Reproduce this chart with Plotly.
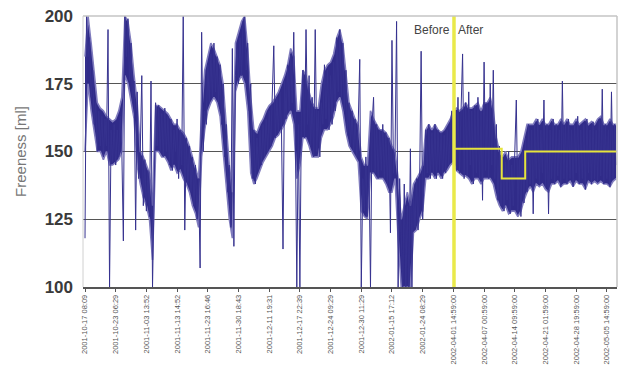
import plotly.graph_objects as go

# Tick labels (one every 20 samples)
tick_labels = [
    "2001-10-17 08:09", "2001-10-23 06:29", "2001-11-03 13:52", "2001-11-13 14:52",
    "2001-11-23 16:46", "2001-11-30 18:43", "2001-12-11 19:31", "2001-12-17 22:39",
    "2001-12-24 09:29", "2001-12-30 11:29", "2002-01-15 17:12", "2002-01-24 08:29",
    "2002-04-01 14:59:00", "2002-04-07 00:59:00", "2002-04-14 09:59:00",
    "2002-04-21 01:59:00", "2002-04-28 19:59:00", "2002-05-05 14:59:00",
]
tick_samples = [i * 20 for i in range(len(tick_labels))]

# Individual freeness readings [ml], one per sample
freeness = [
    118, 200, 185, 192, 170, 180, 160, 168, 150, 165, 152, 163, 148, 162, 152, 195, 100, 158, 146, 160,
    145, 158, 148, 163, 150, 117, 200, 185, 199, 176, 190, 168, 176, 121, 172, 140, 150, 178, 130, 147,
    128, 143, 126, 176, 100, 140, 168, 152, 167, 150, 164, 148, 166, 150, 163, 145, 162, 143, 158, 150,
    162, 140, 158, 145, 200, 121, 155, 138, 152, 135, 148, 130, 145, 125, 140, 107, 194, 150, 165, 160,
    182, 168, 186, 170, 190, 172, 185, 168, 182, 160, 175, 148, 160, 135, 145, 122, 188, 115, 178, 188,
    175, 192, 178, 198, 200, 180, 190, 165, 175, 140, 158, 138, 155, 143, 158, 145, 160, 148, 162, 150,
    165, 152, 168, 189, 155, 170, 157, 172, 158, 114, 176, 162, 182, 165, 186, 168, 194, 160, 100, 160,
    100, 165, 180, 155, 195, 160, 178, 152, 170, 148, 195, 150, 165, 148, 168, 160, 182, 162, 180, 158,
    178, 160, 183, 165, 192, 172, 195, 170, 190, 165, 180, 156, 168, 152, 165, 150, 162, 148, 160, 184,
    100, 140, 128, 148, 126, 145, 100, 160, 170, 142, 160, 140, 158, 143, 160, 140, 157, 138, 155, 120,
    191, 142, 150, 198, 100, 140, 120, 100, 138, 100, 130, 100, 151, 100, 135, 122, 140, 121, 138, 187,
    125, 145, 158, 142, 160, 140, 157, 142, 160, 140, 158, 143, 157, 140, 156, 142, 158, 145, 160, 165,
    148, 162, 143, 170, 142, 165, 186, 140, 168, 141, 172, 145, 165, 138, 167, 142, 170, 140, 165, 132,
    183, 143, 168, 140, 175, 145, 180, 140, 160, 132, 152, 130, 148, 128, 146, 132, 150, 127, 145, 130,
    148, 169, 128, 147, 126, 150, 131, 155, 135, 160, 138, 158, 127, 160, 140, 162, 138, 158, 142, 169,
    137, 160, 127, 158, 140, 162, 138, 160, 141, 158, 137, 176, 140, 160, 138, 162, 140, 158, 137, 160,
    142, 163, 138, 158, 140, 160, 136, 162, 142, 158, 138, 161, 140, 158, 139, 162, 141, 173, 138, 160,
    140, 158, 137, 172, 140, 160, 145,
]
samples = list(range(len(freeness)))

# Typical range of the readings, one bin per 2 samples
band_samples = list(range(0, 347, 2))
band_low = [
    150, 175, 165, 158, 150, 150, 147, 150, 145, 145, 146, 147, 150, 178, 175, 168, 162, 145, 138, 133,
    130, 125, 110, 150, 150, 148, 148, 146, 143, 145, 142, 143, 140, 138, 135, 130, 127, 122, 148, 158,
    165, 168, 170, 168, 163, 150, 138, 125, 118, 172, 176, 178, 175, 165, 142, 138, 140, 143, 146, 148,
    150, 152, 155, 156, 158, 160, 163, 165, 160, 140, 145, 155, 155, 152, 148, 148, 148, 155, 158, 158,
    160, 163, 168, 170, 165, 157, 152, 150, 148, 146, 128, 126, 125, 142, 142, 140, 140, 140, 138, 135,
    135, 140, 118, 100, 100, 100, 100, 120, 121, 125, 128, 140, 140, 142, 140, 142, 140, 142, 143, 145,
    146, 143, 142, 141, 141, 140, 138, 140, 140, 138, 140, 140, 140, 138, 133, 130, 128, 130, 127, 128,
    128, 126, 128, 132, 135, 137, 135, 138, 137, 138, 136, 135, 138, 138, 139, 137, 138, 138, 139, 137,
    139, 138, 138, 136, 139, 138, 139, 138, 139, 138, 138, 137, 139, 140,
]
band_high = [
    185, 200, 190, 178, 168, 166, 165, 163, 162, 161, 162, 165, 170, 200, 198, 190, 178, 168, 150, 148,
    145, 142, 130, 167, 167, 166, 165, 164, 162, 160, 160, 158, 157, 155, 152, 148, 145, 140, 165, 180,
    185, 190, 188, 185, 182, 175, 160, 145, 135, 190, 194, 198, 200, 188, 170, 158, 157, 160, 162, 165,
    167, 168, 170, 172, 175, 178, 182, 188, 185, 165, 165, 180, 178, 172, 168, 166, 166, 175, 180, 182,
    183, 186, 192, 195, 190, 178, 168, 165, 162, 160, 148, 145, 145, 165, 162, 160, 158, 158, 157, 155,
    152, 150, 140, 125, 130, 135, 130, 138, 140, 142, 145, 158, 160, 158, 160, 158, 157, 158, 160, 162,
    165, 166, 165, 166, 168, 166, 166, 167, 168, 165, 168, 168, 170, 165, 155, 150, 148, 150, 147, 148,
    148, 148, 150, 155, 160, 160, 160, 162, 160, 162, 160, 160, 162, 160, 160, 162, 160, 162, 160, 160,
    162, 160, 161, 162, 160, 161, 160, 162, 163, 160, 160, 162, 160, 160,
]

# Target level after the change (yellow step line)
target_x = [240.4, 271.5, 271.5, 286.8, 286.8, 346.6]
target_y = [151, 151, 140, 140, 150, 150]

# Change-over sample (Before / After)
change_sample = 240.4

fig = go.Figure()

fig.add_trace(go.Scatter(
    x=band_samples, y=band_low, mode="lines",
    line=dict(color="#7f7bbd", width=1.6),
    hoverinfo="skip", showlegend=False,
))
fig.add_trace(go.Scatter(
    x=band_samples, y=band_high, mode="lines", fill="tonexty",
    fillcolor="#302b89",
    line=dict(color="#7f7bbd", width=1.6),
    hoverinfo="skip", showlegend=False,
))
fig.add_trace(go.Scatter(
    x=samples, y=freeness, mode="lines",
    line=dict(color="#36328f", width=1),
    hoverinfo="skip", showlegend=False,
))
fig.add_trace(go.Scatter(
    x=[change_sample, change_sample], y=[100, 200], mode="lines",
    line=dict(color="#e9e94a", width=3.5),
    showlegend=False, hoverinfo="skip",
))
fig.add_trace(go.Scatter(
    x=target_x, y=target_y, mode="lines",
    line=dict(color="#e6e43c", width=2),
    showlegend=False, hoverinfo="skip",
))

fig.add_annotation(x=change_sample - 1.5, y=195, text="Before", showarrow=False,
                   xanchor="right", yanchor="middle",
                   font=dict(family="Liberation Sans, Arial", size=12, color="#444444"))
fig.add_annotation(x=change_sample + 1.5, y=195, text="After", showarrow=False,
                   xanchor="left", yanchor="middle",
                   font=dict(family="Liberation Sans, Arial", size=12, color="#444444"))

# light border on top and sides
fig.add_shape(type="line", xref="paper", yref="paper", x0=0, x1=1, y0=1, y1=1,
              line=dict(color="#c4c4c4", width=1.5), layer="above")
fig.add_shape(type="line", xref="paper", yref="paper", x0=1, x1=1, y0=0, y1=1,
              line=dict(color="#c4c4c4", width=1.5), layer="above")
fig.add_shape(type="line", xref="paper", yref="paper", x0=0, x1=0, y0=0, y1=1,
              line=dict(color="#d0d0d0", width=1), layer="above")

fig.update_layout(
    width=621, height=374,
    margin=dict(l=83, r=4, t=16, b=87),
    paper_bgcolor="white", plot_bgcolor="white",
    font=dict(family="Liberation Sans, Arial"),
    xaxis=dict(
        range=[-1.3, 346.6],
        tickvals=tick_samples, ticktext=tick_labels,
        tickangle=-90,
        tickfont=dict(size=7.5, color="#555555"),
        showgrid=False, zeroline=False,
        showline=True, linecolor="#555555", linewidth=1.5,
        ticks="outside", ticklen=3, tickcolor="#555555",
    ),
    yaxis=dict(
        range=[100, 200],
        tickvals=[100, 125, 150, 175, 200],
        ticktext=["<b>100</b>", "<b>125</b>", "<b>150</b>", "<b>175</b>", "<b>200</b>"],
        tickfont=dict(size=17, color="#3a3a3a"),
        showgrid=True, gridcolor="#555555", gridwidth=1.3,
        zeroline=False, ticks="", ticklabelstandoff=9,
        title=dict(text="Freeness [ml]", font=dict(size=15, color="#777777"), standoff=14),
    ),
)

fig.write_html("out.html")
